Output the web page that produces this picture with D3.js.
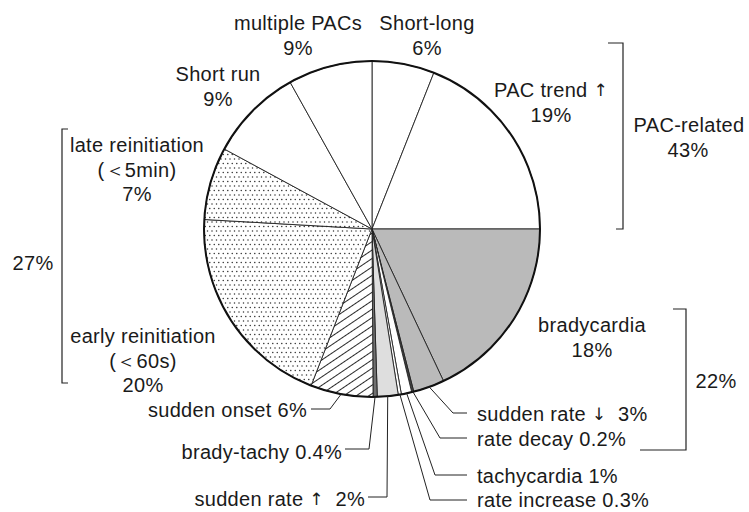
<!DOCTYPE html>
<html><head><meta charset="utf-8">
<script src="https://cdn.jsdelivr.net/npm/d3@7"></script>
<style>
body{margin:0;background:#fff}
text{font-family:"Liberation Sans",Arial,Helvetica,sans-serif;font-size:20px;letter-spacing:0.3px;fill:#1a1a1a}
tspan.arr{font-family:"DejaVu Sans";font-size:17px;fill:#1a1a1a}
</style></head>
<body><svg id="c" width="749" height="512"></svg>
<script>
// ---- data ----
const categories = ["Short-long","PAC trend \u2191","bradycardia","sudden rate \u2193","rate decay","tachycardia","rate increase","sudden rate \u2191","brady-tachy","sudden onset","early reinitiation","late reinitiation","Short run","multiple PACs"];
const values = [6,19,18,3,0.2,1,0.3,2,0.4,6,20,7,9,8.1];   // slice sizes
const pctLabels = ["6%","19%","18%","3%","0.2%","1%","0.3%","2%","0.4%","6%","20%","7%","9%","9%"];
const subLabels = {"late reinitiation":"(\uFF1C5min)","early reinitiation":"(\uFF1C60s)"};
const groupNames = ["PAC-related","",""];
const groupPcts = ["43%","22%","27%"];

// ---- styles / layout ----
const fills = ["#fff","#fff","#bababa","#bababa","#444","#fff","#fff","#dedede","#707070","url(#hatch)","url(#dots)","url(#dots)","#fff","#fff"];
const cx = 372, cy = 229, R = 168;

const svg = d3.select("#c");
const defs = svg.append("defs");
const hatch = defs.append("pattern").attr("id","hatch").attr("patternUnits","userSpaceOnUse")
  .attr("width",7).attr("height",7).attr("patternTransform","rotate(-34)");
hatch.append("rect").attr("width",7).attr("height",7).attr("fill","#fff");
hatch.append("line").attr("x1",0).attr("x2",7).attr("y1",3.5).attr("y2",3.5).attr("stroke","#111").attr("stroke-width",0.9);
const dots = defs.append("pattern").attr("id","dots").attr("patternUnits","userSpaceOnUse")
  .attr("width",9).attr("height",9);
dots.append("rect").attr("width",9).attr("height",9).attr("fill","#fff");
[[2,2],[6.5,2],[4.25,6.5],[8.75,6.5],[-0.25,6.5]].forEach(p=>dots.append("circle").attr("cx",p[0]).attr("cy",p[1]).attr("r",0.75).attr("fill","#333"));

const pie = d3.pie().sort(null).value(d=>d).startAngle(0).endAngle(2*Math.PI);
const arcs = pie(values);
const arc = d3.arc().innerRadius(0).outerRadius(R);
const g = svg.append("g").attr("transform",`translate(${cx},${cy})`);
g.selectAll("path.slice").data(arcs).join("path").attr("class","slice")
  .attr("d",arc).attr("fill",(d,i)=>fills[i]).attr("stroke","#222").attr("stroke-width",0.9);
g.append("circle").attr("r",R).attr("fill","none").attr("stroke","#111").attr("stroke-width",2);

// write a string into a text/tspan, giving arrow glyphs a plain font
function writeText(sel, str){
  str.split(/([\u2191\u2193])/).forEach(part=>{
    if(!part) return;
    const s = sel.append("tspan").text(part);
    if(part==="\u2191"||part==="\u2193") s.attr("class","arr");
  });
}

// ---- labels without leaders ----
const plainLayout = {
  "Short-long":[427,23], "multiple PACs":[298,23], "Short run":[218,74],
  "PAC trend \u2191":[551,90], "bradycardia":[592,325],
  "late reinitiation":[137,145], "early reinitiation":[143,336]
};
categories.forEach((c,i)=>{
  const pos = plainLayout[c]; if(!pos) return;
  const lines = [c]; if(subLabels[c]) lines.push(subLabels[c]); lines.push(pctLabels[i]);
  lines.forEach((l,k)=>{
    const t = svg.append("text").attr("x",pos[0]).attr("y",pos[1]+k*24.5)
      .attr("text-anchor","middle").attr("dominant-baseline","central");
    writeText(t,l);
  });
});

// ---- labels with leaders ----
const leaderLayout = {
  "sudden rate \u2193":{tx:477,ty:414,ex:453,ey:413,hx:467,anchor:"start"},
  "rate decay":{tx:477,ty:439,ex:440,ey:438,hx:467,anchor:"start"},
  "tachycardia":{tx:477,ty:476,ex:435,ey:475,hx:467,anchor:"start"},
  "rate increase":{tx:477,ty:500,ex:430,ey:500,hx:467,anchor:"start"},
  "sudden rate \u2191":{tx:365,ty:499,ex:387,ey:497,hx:368,anchor:"end"},
  "brady-tachy":{tx:342,ty:452,ex:369,ey:449,hx:345,anchor:"end"},
  "sudden onset":{tx:307,ty:410,ex:330,ey:409,hx:311,anchor:"end"}
};
categories.forEach((c,i)=>{
  const L = leaderLayout[c]; if(!L) return;
  const a = (arcs[i].startAngle+arcs[i].endAngle)/2;
  const sx = cx + R*0.995*Math.sin(a), sy = cy - R*0.995*Math.cos(a);
  svg.append("path").attr("d",`M${sx},${sy}L${L.ex},${L.ey}L${L.hx},${L.ey}`)
    .attr("fill","none").attr("stroke","#222").attr("stroke-width",1);
  const txt = c==="sudden rate \u2193"||c==="sudden rate \u2191" ? c+"\u00A0 "+pctLabels[i] : c+" "+pctLabels[i];
  const t = svg.append("text").attr("x",L.tx).attr("y",L.ty).attr("text-anchor",L.anchor)
    .attr("dominant-baseline","central");
  writeText(t,txt);
});

// ---- brackets ----
const br = (d)=>svg.append("path").attr("d",d).attr("fill","none").attr("stroke","#222").attr("stroke-width",1.2);
br("M608,43H623V229H616");
br("M673,309H686V450H640");
br("M68,129H62V383H68");
svg.append("text").attr("x",689).attr("y",125).attr("text-anchor","middle").attr("dominant-baseline","central").text(groupNames[0]);
svg.append("text").attr("x",688).attr("y",149.5).attr("text-anchor","middle").attr("dominant-baseline","central").text(groupPcts[0]);
svg.append("text").attr("x",716).attr("y",381).attr("text-anchor","middle").attr("dominant-baseline","central").text(groupPcts[1]);
svg.append("text").attr("x",33).attr("y",263).attr("text-anchor","middle").attr("dominant-baseline","central").text(groupPcts[2]);
</script></body></html>
